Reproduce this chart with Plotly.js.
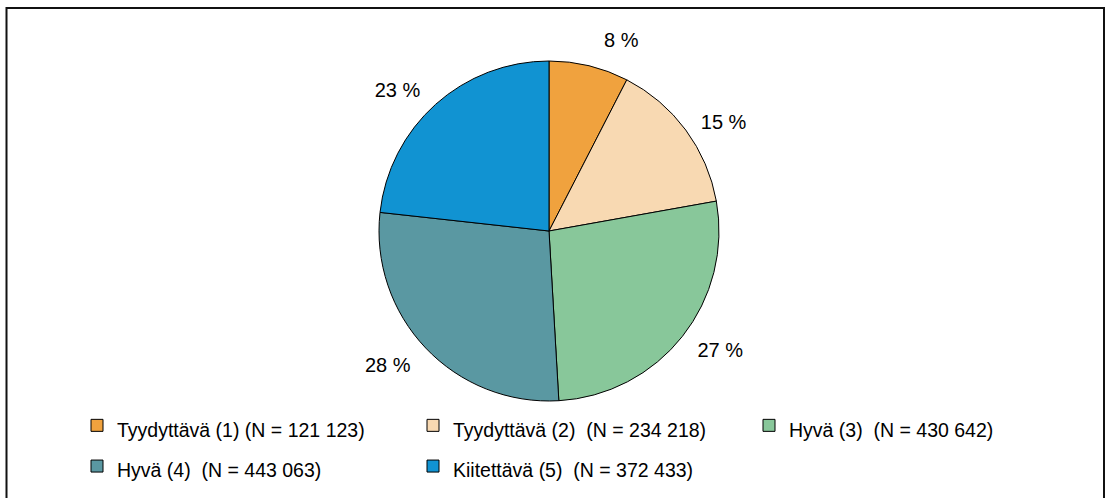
<!DOCTYPE html>
<html>
<head>
<meta charset="utf-8">
<script src="https://cdn.plot.ly/plotly-3.0.1.min.js"></script>
<style>
html,body{margin:0;padding:0;background:#fff;}
#chart{width:1106px;height:498px;}
</style>
</head>
<body>
<div id="chart"></div>
<script>
// Data
const categories = [
  "Tyydyttävä (1) (N = 121 123)",
  "Tyydyttävä (2)\u00a0 (N = 234 218)",
  "Hyvä (3)\u00a0 (N = 430 642)",
  "Hyvä (4)\u00a0 (N = 443 063)",
  "Kiitettävä (5)\u00a0 (N = 372 433)"
];
const values = [121123, 234218, 430642, 443063, 372433];
const percentLabels = ["8 %", "15 %", "27 %", "28 %", "23 %"];
const colors = ["#F0A23E", "#F8D9B2", "#88C79A", "#5A98A2", "#1193D2"];

const W = 1106, H = 498;
const FONT = '"Liberation Sans", Arial, sans-serif';

// pie geometry (pixels)
const cx = 549, cy = 231, r = 170;

// legend text drawn at 19.5px; larger legend font only sets the row pitch
const legendLabels = categories.map(c => '<span style="font-size:19.5px">' + c + '</span>');
// percent labels: 20px text with blank lines around to set the gap from the pie
const PAD_TOP = '<span style="font-size:24px">\u00a0</span>';
const PAD_BOTTOM = '\u00a0';
const pieText = percentLabels.map(t => PAD_TOP + '<br><span style="font-size:20px">' + t + '</span><br>' + PAD_BOTTOM);

const trace = {
  type: 'pie',
  labels: legendLabels,
  values: values,
  text: pieText,
  textinfo: 'text',
  textposition: 'outside',
  sort: false,
  direction: 'clockwise',
  rotation: 0,
  marker: {colors: colors, line: {color: '#000', width: 1}},
  textfont: {family: FONT, size: 13.5, color: '#000'},
  outsidetextfont: {family: FONT, size: 13.5, color: '#000'},
  hoverinfo: 'label+percent',
  domain: {
    x: [(cx - r) / W, (cx + r) / W],
    y: [(H - (cy + r)) / H, (H - (cy - r)) / H]
  }
};

const layout = {
  width: W,
  height: H,
  margin: {l: 0, r: 0, t: 0, b: 0},
  paper_bgcolor: '#fff',
  font: {family: FONT, color: '#000'},
  showlegend: true,
  legend: {
    orientation: 'h',
    x: 77 / W,
    xanchor: 'left',
    y: (H - 400) / H,
    yanchor: 'top',
    entrywidth: 291,
    entrywidthmode: 'pixels',
    font: {family: FONT, size: 29, color: '#000'},
    bgcolor: 'rgba(0,0,0,0)',
    traceorder: 'normal'
  },
  shapes: [{
    type: 'rect', xref: 'paper', yref: 'paper',
    x0: 6.5 / W, x1: 1104 / W,
    y0: -0.05, y1: (H - 8) / H,
    line: {color: '#111', width: 2},
    fillcolor: 'rgba(0,0,0,0)'
  }]
};

Plotly.newPlot('chart', [trace], layout, {displayModeBar: false, staticPlot: true});
</script>
</body>
</html>
